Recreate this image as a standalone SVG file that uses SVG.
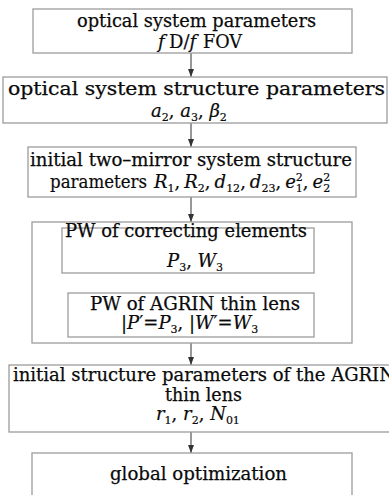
<svg xmlns="http://www.w3.org/2000/svg" width="389" height="495" viewBox="0 0 389 495">
  <style>
    .box { fill: #ffffff; stroke: #9c9c9c; stroke-width: 1.3; }
    .t { font-family: "DejaVu Serif", "Liberation Serif", serif; font-size: 18px; fill: #0a0a0a; stroke: #0a0a0a; stroke-width: 0.25; }
    .m { font-family: "DejaVu Serif", "Liberation Serif", serif; font-size: 18px; fill: #0a0a0a; stroke: #0a0a0a; stroke-width: 0.2; }
    .i { font-style: italic; }
    .s { font-size: 11px; font-style: normal; }
    .conn { stroke: #333333; stroke-width: 1; fill: none; }
    .conn-red { stroke: #c0392b; stroke-width: 1; fill: none; }
  </style>
  <defs>
    <marker id="ah" viewBox="0 0 8 8" refX="8" refY="4" markerWidth="8" markerHeight="8" markerUnits="userSpaceOnUse" orient="auto">
      <path d="M0,1 L8,4 L0,7 Z" fill="#333333"/>
    </marker>
    <marker id="ahr" viewBox="0 0 8 8" refX="8" refY="4" markerWidth="8" markerHeight="8" markerUnits="userSpaceOnUse" orient="auto">
      <path d="M0,1 L8,4 L0,7 Z" fill="#c0392b"/>
    </marker>
  </defs>

  <rect width="389" height="495" fill="#ffffff"/>

  <!-- connectors -->
  <g id="connectors">
    <line class="conn" x1="191" y1="53" x2="191" y2="77" marker-end="url(#ah)"/>
    <line class="conn" x1="191" y1="123" x2="191" y2="147" marker-end="url(#ah)"/>
    <line class="conn" x1="191" y1="197" x2="191" y2="222" marker-end="url(#ah)"/>
    <line class="conn-red" x1="191" y1="273" x2="191" y2="293" marker-end="url(#ahr)"/>
    <line class="conn" x1="191" y1="343" x2="191" y2="365" marker-end="url(#ah)"/>
    <line class="conn" x1="191" y1="432" x2="191" y2="453" marker-end="url(#ah)"/>
  </g>

  <!-- optical system parameters -->
  <g id="node-optical-params">
    <rect class="box" x="33" y="9" width="319" height="44"/>
    <text class="t" x="77" y="27" textLength="239" lengthAdjust="spacingAndGlyphs">optical system parameters</text>
    <text class="m" x="158" y="48"><tspan class="i">f</tspan><tspan x="169">D/</tspan><tspan class="i">f</tspan><tspan x="203" textLength="39" lengthAdjust="spacingAndGlyphs">FOV</tspan></text>
  </g>

  <!-- optical system structure parameters -->
  <g id="node-structure-params">
    <rect class="box" x="3" y="77" width="384" height="46"/>
    <text class="t" x="8" y="95" textLength="377" lengthAdjust="spacingAndGlyphs">optical system structure parameters</text>
    <text class="m" x="151" y="117"><tspan class="i">a</tspan><tspan class="s" dy="4">2</tspan><tspan dy="-4">, </tspan><tspan class="i">a</tspan><tspan class="s" dy="4">3</tspan><tspan dy="-4">, </tspan><tspan class="i">β</tspan><tspan class="s" dy="4">2</tspan></text>
  </g>

  <!-- initial two-mirror system -->
  <g id="node-two-mirror">
    <rect class="box" x="28" y="147" width="328" height="50"/>
    <text class="t" x="30" y="166" textLength="322" lengthAdjust="spacingAndGlyphs">initial two–mirror system structure</text>
    <text class="m" x="50" y="188" font-size="17"><tspan textLength="97" lengthAdjust="spacingAndGlyphs">parameters</tspan><tspan class="i" x="154">R</tspan><tspan class="s" dy="4">1</tspan><tspan dy="-4">,</tspan><tspan class="i" dx="4">R</tspan><tspan class="s" dy="4">2</tspan><tspan dy="-4">,</tspan><tspan class="i" dx="4">d</tspan><tspan class="s" dy="4">12</tspan><tspan dy="-4">,</tspan><tspan class="i" dx="4">d</tspan><tspan class="s" dy="4">23</tspan><tspan dy="-4">,</tspan><tspan class="i" dx="4">e</tspan><tspan class="s" dy="-7">2</tspan><tspan class="s" dx="-7" dy="11">1</tspan><tspan dy="-4">,</tspan><tspan class="i" dx="4">e</tspan><tspan class="s" dy="-7">2</tspan><tspan class="s" dx="-7" dy="11">2</tspan></text>
  </g>

  <!-- PW group -->
  <g id="node-pw-group">
    <rect class="box" x="32" y="222" width="320" height="121"/>
  </g>

  <g id="node-pw-correcting">
    <rect class="box" x="62" y="228" width="252" height="45"/>
    <text class="t" x="65" y="237" textLength="242" lengthAdjust="spacingAndGlyphs">PW of correcting elements</text>
    <text class="m" x="167" y="267"><tspan class="i">P</tspan><tspan class="s" dy="4">3</tspan><tspan dy="-4">, </tspan><tspan class="i">W</tspan><tspan class="s" dy="4">3</tspan></text>
  </g>

  <g id="node-pw-agrin">
    <rect class="box" x="68" y="293" width="246" height="44"/>
    <text class="t" x="90" y="310" textLength="210" lengthAdjust="spacingAndGlyphs">PW of AGRIN thin lens</text>
    <text class="m" x="121" y="329">|<tspan class="i">P</tspan>′=<tspan class="i">P</tspan><tspan class="s" dy="4">3</tspan><tspan dy="-4">, |</tspan><tspan class="i">W</tspan>′=<tspan class="i">W</tspan><tspan class="s" dy="4">3</tspan></text>
  </g>

  <!-- initial AGRIN structure parameters -->
  <g id="node-agrin-structure">
    <rect class="box" x="9" y="365" width="400" height="67"/>
    <text class="t" x="13" y="381" textLength="382" lengthAdjust="spacingAndGlyphs">initial structure parameters of the AGRIN</text>
    <text class="t" x="165" y="401" textLength="77" lengthAdjust="spacingAndGlyphs">thin lens</text>
    <text class="m" x="156" y="420"><tspan class="i">r</tspan><tspan class="s" dy="4">1</tspan><tspan dy="-4">, </tspan><tspan class="i">r</tspan><tspan class="s" dy="4">2</tspan><tspan dy="-4">, </tspan><tspan class="i">N</tspan><tspan class="s" dy="4">01</tspan></text>
  </g>

  <!-- global optimization -->
  <g id="node-global-opt">
    <rect class="box" x="32" y="453" width="320" height="60"/>
    <text class="t" x="110" y="480" textLength="177" lengthAdjust="spacingAndGlyphs">global optimization</text>
  </g>
</svg>
